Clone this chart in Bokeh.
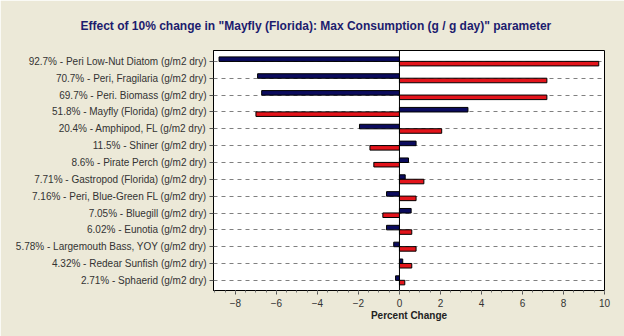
from bokeh.plotting import figure
from bokeh.models import ColumnDataSource, FixedTicker, Span, Range1d, Title
from bokeh.transform import dodge
from bokeh.embed import file_html
from bokeh.resources import INLINE

title_text = 'Effect of 10% change in "Mayfly (Florida): Max Consumption (g / g day)" parameter'
labels = [
    "92.7% - Peri Low-Nut Diatom (g/m2 dry)",
    "70.7% - Peri, Fragilaria (g/m2 dry)",
    "69.7% - Peri. Biomass (g/m2 dry)",
    "51.8% - Mayfly (Florida) (g/m2 dry)",
    "20.4% - Amphipod, FL (g/m2 dry)",
    "11.5% - Shiner (g/m2 dry)",
    "8.6% - Pirate Perch (g/m2 dry)",
    "7.71% - Gastropod (Florida) (g/m2 dry)",
    "7.16% - Peri, Blue-Green FL (g/m2 dry)",
    "7.05% - Bluegill (g/m2 dry)",
    "6.02% - Eunotia (g/m2 dry)",
    "5.78% - Largemouth Bass, YOY (g/m2 dry)",
    "4.32% - Redear Sunfish (g/m2 dry)",
    "2.71% - Sphaerid (g/m2 dry)",
]
minus10 = [-8.8, -6.92, -6.72, 3.34, -1.95, 0.81, 0.44, 0.28, -0.63, 0.57, -0.63, -0.28, 0.16, -0.19]
plus10 = [9.72, 7.19, 7.19, -7.0, 2.06, -1.44, -1.25, 1.19, 0.81, -0.81, 0.60, 0.81, 0.60, 0.26]
x_ticks = [-8, -6, -4, -2, 0, 2, 4, 6, 8, 10]

n = len(labels)
ypos = [n - 1 - i for i in range(n)]
src = ColumnDataSource(dict(y=ypos, minus=minus10, plus=plus10))

BG = "#ECE9D8"
FONT = "Liberation Sans"

p = figure(width=624, height=336, output_backend="svg", toolbar_location=None,
           x_range=Range1d(-9.07, 10), y_range=Range1d(-0.6, n - 1 + 0.65),
           min_border_left=213, min_border_right=20, min_border_top=50, min_border_bottom=46)
p.border_fill_color = BG
p.background_fill_color = "white"
p.outline_line_color = "black"
p.outline_line_width = 1

p.add_layout(Title(text=title_text, align="left", offset=-133, standoff=32,
                   vertical_align="top",
                   text_font=FONT, text_font_size="12px", text_font_style="bold",
                   text_color="#1C1C6E"), "above")

p.hbar(y=dodge("y", 0.135), left=0, right="minus", height=0.27, source=src,
       fill_color="#0B0B5E", line_color="black", line_width=1)
p.hbar(y=dodge("y", -0.13), left=0, right="plus", height=0.27, source=src,
       fill_color="#E3141B", line_color="black", line_width=1)

p.add_layout(Span(location=0, dimension="height", line_color="black", line_width=1))

yax = p.yaxis[0]
yax.ticker = FixedTicker(ticks=ypos)
yax.major_label_overrides = {y: lab for y, lab in zip(ypos, labels)}
yax.major_label_text_font = FONT
yax.major_label_text_font_size = "10px"
yax.major_label_text_color = "#333333"
yax.major_tick_out = 4
yax.major_tick_in = 0
yax.minor_tick_out = 0
yax.major_tick_line_color = "#555555"
yax.axis_line_color = "black"
yax.major_label_standoff = 3

xax = p.xaxis[0]
xax.ticker = FixedTicker(ticks=x_ticks, minor_ticks=[v / 2 for v in range(-18, 21)])
xax.major_label_text_font = FONT
xax.major_label_text_font_size = "10px"
xax.major_label_text_color = "#333333"
xax.major_tick_out = 4
xax.major_tick_in = 0
xax.minor_tick_out = 2
xax.minor_tick_in = 0
xax.major_tick_line_color = "#555555"
xax.minor_tick_line_color = "#777777"
xax.axis_line_color = "black"
xax.major_label_standoff = 4
xax.axis_label = "Percent Change"
xax.axis_label_text_font = FONT
xax.axis_label_text_font_size = "10px"
xax.axis_label_text_font_style = "bold"
xax.axis_label_text_color = "#222222"
xax.axis_label_standoff = 0

p.xgrid.grid_line_color = None
p.ygrid.grid_line_color = "#808080"
p.ygrid.grid_line_dash = "4 4"
p.ygrid.grid_line_width = 1

html = file_html(p, INLINE)
html = html.replace("<body>", '<body style="background:%s">' % BG, 1)
open("out.html", "w").write(html)
